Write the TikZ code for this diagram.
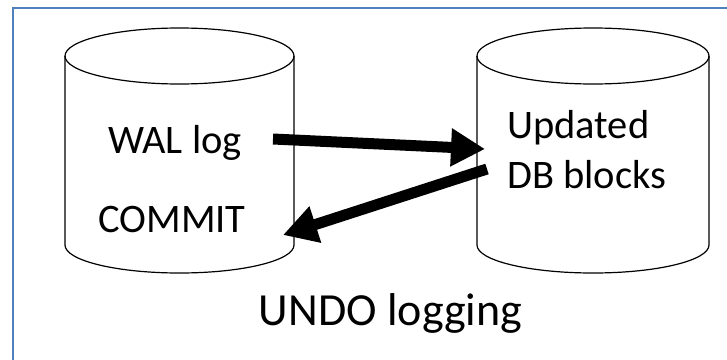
\documentclass[tikz,border=0pt]{standalone}
\usepackage{fontspec}
\setmainfont{Carlito}
\usetikzlibrary{arrows.meta}
\definecolor{frameblue}{HTML}{4F81BD}
\tikzset{
  cyl/.style={draw=black, line width=1.2pt},
  lbl/.style={inner sep=0pt, anchor=base, font=\fontsize{40.5}{48}\selectfont},
  bigarrow/.style={line width=11pt, -{Triangle[length=34pt,width=36pt]}},
}
\begin{document}
\begin{tikzpicture}[x=1pt,y=1pt]
  \useasboundingbox (0,0) rectangle (727,-359);
  \fill[white] (0,0) rectangle (727,-359);
  % frame
  \draw[frameblue, line width=2.2pt] (13,-362) -- (13,-8) -- (730,-8);

  % left cylinder
  \draw[cyl] (65,-56) -- (65,-245)
    arc[start angle=180, end angle=360, x radius=114.5, y radius=28] -- (294,-56);
  \draw[cyl] (179.5,-56) ellipse[x radius=114.5, y radius=28];

  % right cylinder
  \draw[cyl] (477,-56) -- (477,-245)
    arc[start angle=180, end angle=360, x radius=116, y radius=28] -- (709,-56);
  \draw[cyl] (593,-56) ellipse[x radius=116, y radius=28];

  % labels
  \node[lbl] (wal) at (175,-153) {WAL log};
  \node[lbl] (commit) at (172,-232) {COMMIT};
  \node[lbl, anchor=base west] (upd) at (507,-138) {Updated};
  \node[lbl, anchor=base west] (dbb) at (507,-188) {DB blocks};
  \node[lbl, font=\fontsize{46}{54}\selectfont] (title) at (390.5,-325) {UNDO logging};

  % arrows
  \coordinate (a1s) at (273,-139);
  \coordinate (a1e) at (485,-149);
  \coordinate (a2s) at (487,-169);
  \coordinate (a2e) at (283,-235);
  \draw[bigarrow] (a1s) -- (a1e);
  \draw[bigarrow] (a2s) -- (a2e);
\end{tikzpicture}
\end{document}
